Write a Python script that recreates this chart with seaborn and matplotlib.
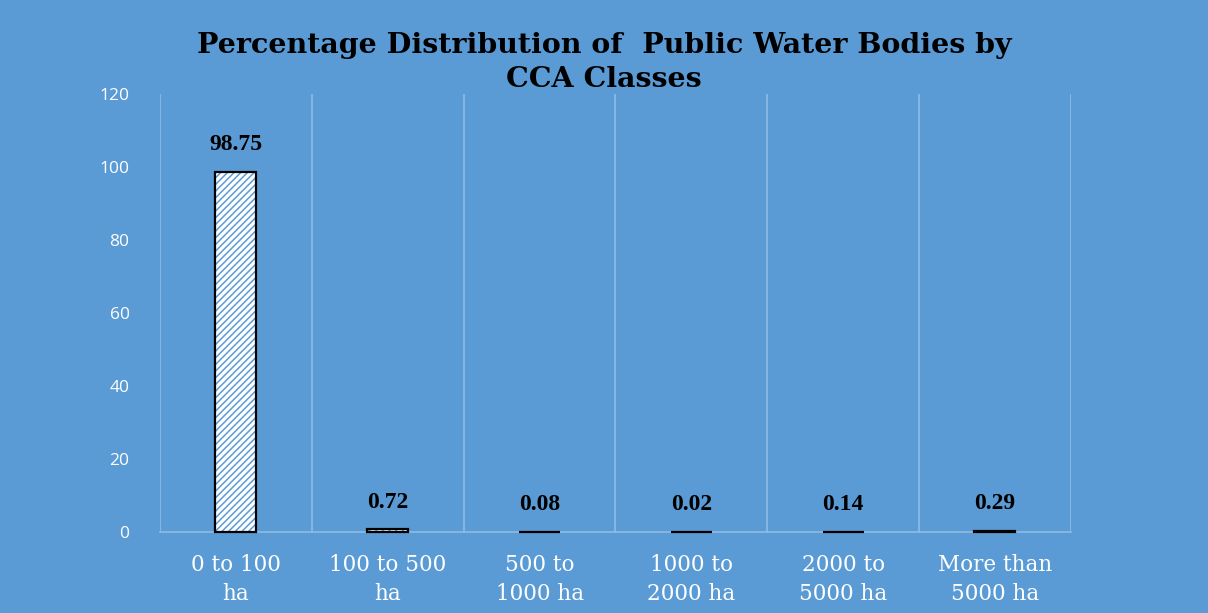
import pandas as pd
import matplotlib
matplotlib.use("Agg")
import matplotlib.pyplot as plt
import seaborn as sns

# data
classes = ["0 to 100\nha", "100 to 500\nha", "500 to\n1000 ha", "1000 to\n2000 ha",
           "2000 to\n5000 ha", "More than\n5000 ha"]
percent = [98.75, 0.72, 0.08, 0.02, 0.14, 0.29]
y_ticks = [0, 20, 40, 60, 80, 100, 120]

bg = "#5B9BD5"
grid_col = "#8FBBE3"

sns.set_theme(style="white")
plt.rcParams["hatch.linewidth"] = 1.1

df = pd.DataFrame({"cls": classes, "pct": percent})

fig = plt.figure(figsize=(12.08, 6.13), dpi=100)
fig.patch.set_facecolor(bg)
ax = fig.add_axes([0.1325, 0.1321, 0.754, 0.7146])
ax.set_facecolor(bg)

# hatched fill (blue lines on white), then a black outline on top
sns.barplot(data=df, x="cls", y="pct", ax=ax, color="white", width=0.27,
            edgecolor=bg, linewidth=0, saturation=1)
for p in ax.patches:
    p.set_hatch("/////")
    p.set_edgecolor(bg)
    p.set_facecolor("white")
n_fill = len(ax.patches)
sns.barplot(data=df, x="cls", y="pct", ax=ax, fill=False, width=0.27,
            edgecolor="black", linewidth=1.6)
for p in ax.patches[n_fill:]:
    p.set_zorder(3)
    p.set_clip_on(False)

# value labels
for x, v in enumerate(percent):
    ax.annotate(f"{v:.2f}", (x, v), xytext=(0, 12), textcoords="offset points",
                ha="center", va="bottom", fontsize=17, fontweight="bold",
                family="Liberation Serif", color="black")

ax.set_ylim(0, 120)
ax.set_xlim(-0.5, len(classes) - 0.5)
ax.set_yticks(y_ticks)
ax.set_yticklabels([str(t) for t in y_ticks], color="white", fontsize=12.5,
                   family="Open Sans")
ax.set_xticks(range(len(classes)))
ax.set_xticklabels(classes, color="white", fontsize=15.5, family="DejaVu Serif",
                   linespacing=1.4)
ax.tick_params(axis="x", length=0, pad=16)
ax.tick_params(axis="y", length=0, pad=22)
ax.set_xlabel("")
ax.set_ylabel("")

# vertical gridlines between categories
ax.set_xticks([i - 0.5 for i in range(len(classes) + 1)], minor=True)
ax.tick_params(axis="x", which="minor", length=0)
ax.grid(axis="x", which="minor", color=grid_col, linewidth=1.2)
ax.grid(axis="y", visible=False)
ax.set_axisbelow(True)

for s in ["top", "right", "left"]:
    ax.spines[s].set_visible(False)
ax.spines["bottom"].set_color(grid_col)
ax.spines["bottom"].set_linewidth(1.2)

fig.text(0.5, 0.948, "Percentage Distribution of  Public Water Bodies by\nCCA Classes",
         ha="center", va="top", fontsize=20.5, fontweight="bold",
         family="DejaVu Serif", color="black", linespacing=1.35)

fig.savefig("out.png", dpi=100, facecolor=bg)
